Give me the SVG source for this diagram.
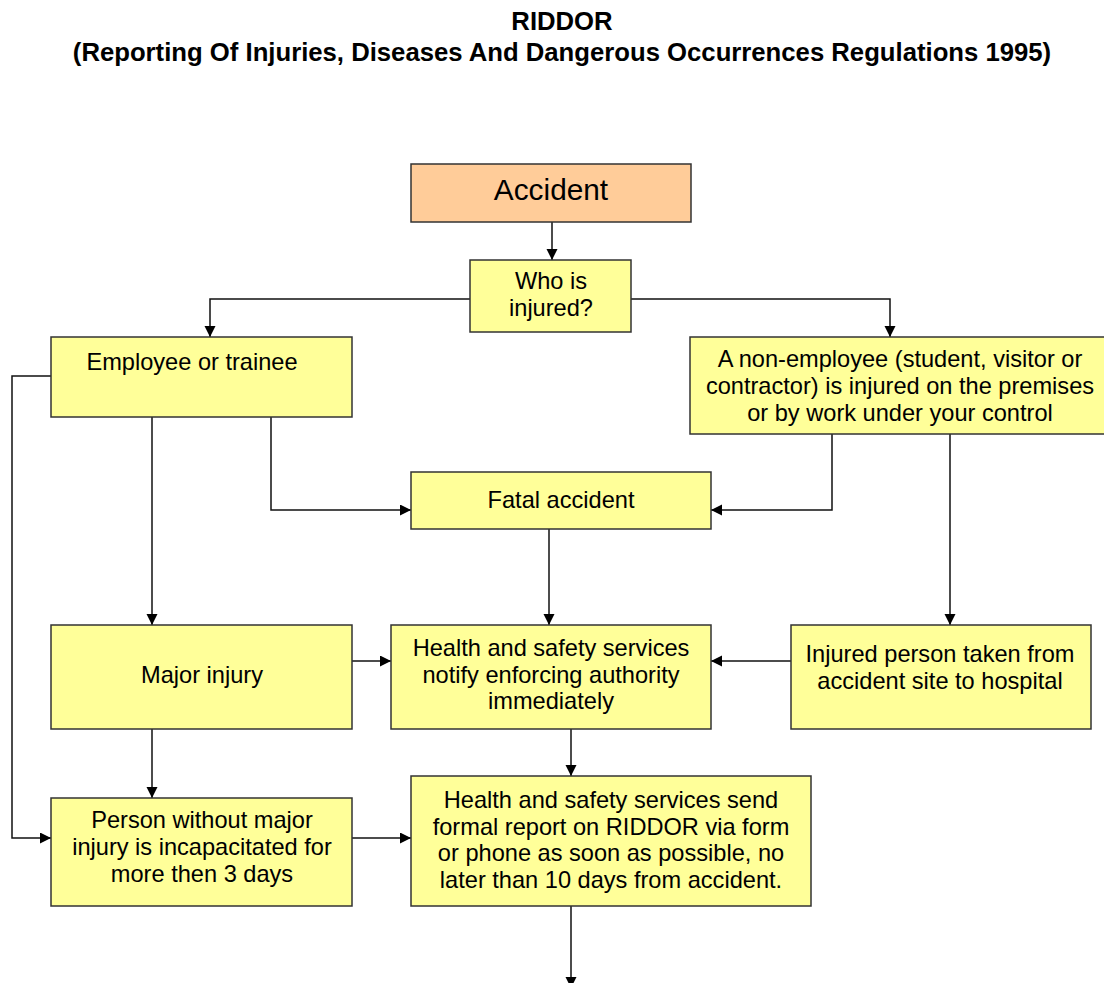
<svg xmlns="http://www.w3.org/2000/svg" width="1104" height="983" viewBox="0 0 1104 983">
<defs>
<marker id="arr" markerUnits="userSpaceOnUse" markerWidth="12" markerHeight="12" refX="11" refY="5.5" orient="auto">
<path d="M0,0 L11,5.5 L0,11 z" fill="#000"/>
</marker>
<style>
.box{fill:#FFFF99;stroke:#333;stroke-width:1.5}
.acc{fill:#FFCC99;stroke:#333;stroke-width:1.5}
.t{font-family:"Liberation Sans",Arial,sans-serif;font-size:23.6px;fill:#000;text-anchor:middle}
.title{font-family:"Liberation Sans",Arial,sans-serif;font-size:25.7px;font-weight:bold;fill:#000;text-anchor:middle}
.c{fill:none;stroke:#111;stroke-width:1.5;marker-end:url(#arr)}
</style>
</defs>
<rect width="1104" height="983" fill="#fff"/>
<g id="title">
<text class="title" x="562" y="30">RIDDOR</text>
<text class="title" x="562" y="61">(Reporting Of Injuries, Diseases And Dangerous Occurrences Regulations 1995)</text>
</g>
<g id="connectors">
<path class="c" d="M552,222 V260"/>
<path class="c" d="M470,299 H210 V337"/>
<path class="c" d="M631,299 H890 V337"/>
<path class="c" d="M51,376 H12 V838 H51"/>
<path class="c" d="M271,417 V510 H411"/>
<path class="c" d="M152,417 V625"/>
<path class="c" d="M832,434 V510 H711"/>
<path class="c" d="M950,434 V625"/>
<path class="c" d="M549,529 V625"/>
<path class="c" d="M352,661 H391"/>
<path class="c" d="M791,661 H711"/>
<path class="c" d="M571,729 V776"/>
<path class="c" d="M152,729 V798"/>
<path class="c" d="M352,838 H411"/>
<path class="c" d="M571,906 V988"/>
</g>
<g id="accident">
<rect class="acc" x="411" y="164" width="280" height="58"/>
<text class="t" x="551" y="200" style="font-size:29.8px">Accident</text>
</g>
<g id="who">
<rect class="box" x="470" y="260" width="161" height="72"/>
<text class="t" x="551" y="289">Who is</text>
<text class="t" x="551" y="316">injured?</text>
</g>
<g id="employee">
<rect class="box" x="51" y="337" width="301" height="80"/>
<text class="t" x="192" y="370">Employee or trainee</text>
</g>
<g id="nonemployee">
<rect class="box" x="690" y="337" width="420" height="97"/>
<text class="t" x="900" y="367">A non-employee (student, visitor or</text>
<text class="t" x="900" y="394">contractor) is injured on the premises</text>
<text class="t" x="900" y="421">or by work under your control</text>
</g>
<g id="fatal">
<rect class="box" x="411" y="472" width="300" height="57"/>
<text class="t" x="561" y="508">Fatal accident</text>
</g>
<g id="major">
<rect class="box" x="51" y="625" width="301" height="104"/>
<text class="t" x="202" y="683">Major injury</text>
</g>
<g id="health1">
<rect class="box" x="391" y="625" width="320" height="104"/>
<text class="t" x="551" y="656">Health and safety services</text>
<text class="t" x="551" y="683">notify enforcing authority</text>
<text class="t" x="551" y="709">immediately</text>
</g>
<g id="injured">
<rect class="box" x="791" y="625" width="300" height="104"/>
<text class="t" x="940" y="662">Injured person taken from</text>
<text class="t" x="940" y="689">accident site to hospital</text>
</g>
<g id="person">
<rect class="box" x="51" y="798" width="301" height="108"/>
<text class="t" x="202" y="828">Person without major</text>
<text class="t" x="202" y="855">injury is incapacitated for</text>
<text class="t" x="202" y="882">more then 3 days</text>
</g>
<g id="health2">
<rect class="box" x="411" y="776" width="400" height="130"/>
<text class="t" x="611" y="808">Health and safety services send</text>
<text class="t" x="611" y="835">formal report on RIDDOR via form</text>
<text class="t" x="611" y="861">or phone as soon as possible, no</text>
<text class="t" x="611" y="888">later than 10 days from accident.</text>
</g>
</svg>
